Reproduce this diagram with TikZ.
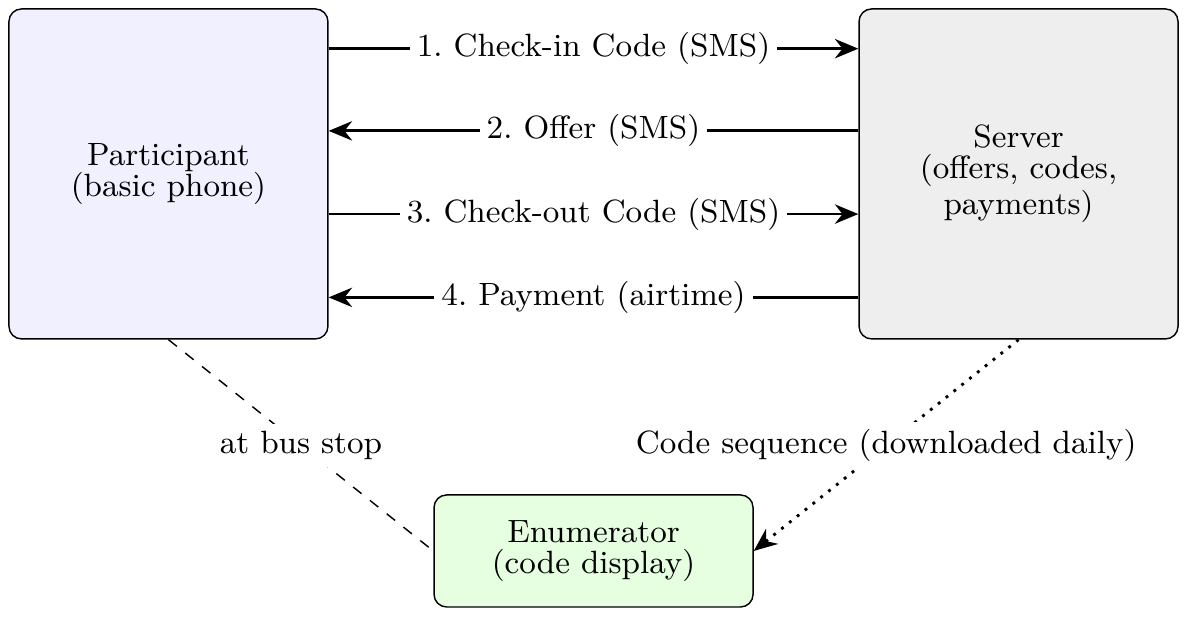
\documentclass[tikz,border=0pt]{standalone}
\usetikzlibrary{arrows.meta}
\definecolor{partfill}{HTML}{F0F0FF}
\definecolor{servfill}{HTML}{EEEEEE}
\definecolor{enumfill}{HTML}{E5FFE0}
\begin{document}
\frenchspacing
\begin{tikzpicture}[
  font=\fontsize{9pt}{8.7pt}\selectfont,
  actor/.style={draw, rounded corners=3.5pt, rectangle, minimum width=3.132cm, minimum height=3.24cm,
                align=center, inner sep=3pt},
  msg/.style={thick, -{Stealth[length=2.3mm, width=1.9mm]}},
  lbl/.style={fill=white, inner sep=2pt}
]
\useasboundingbox (0,0) rectangle (11.655,-6.058);
\node[actor, fill=partfill] (part) at (1.654, -1.708)  {Participant\\(basic phone)};
\node[actor, fill=servfill] (serv) at (10.001, -1.708) {Server\\(offers, codes,\\payments)};
\node[actor, fill=enumfill, minimum height=1.1cm] (enum) at (5.828, -5.410) {Enumerator\\(code display)};
\draw[msg] ([yshift=1.230cm]part.east) -- node[lbl] {1. Check-in Code (SMS)} ([yshift=1.230cm]serv.west);
\draw[msg] ([yshift=0.423cm]serv.west) -- node[lbl] {2. Offer (SMS)} ([yshift=0.423cm]part.east);
\draw[msg] ([yshift=-0.394cm]part.east) -- node[lbl] {3. Check-out Code (SMS)} ([yshift=-0.394cm]serv.west);
\draw[msg] ([yshift=-1.212cm]serv.west) -- node[lbl] {4. Payment (airtime)} ([yshift=-1.212cm]part.east);
\draw[dashed] (part.south) -- node[lbl] {at bus stop} (enum.west);
\draw[msg, dotted] (serv.south) -- node[lbl] {Code sequence (downloaded daily)} (enum.east);
\end{tikzpicture}
\end{document}
